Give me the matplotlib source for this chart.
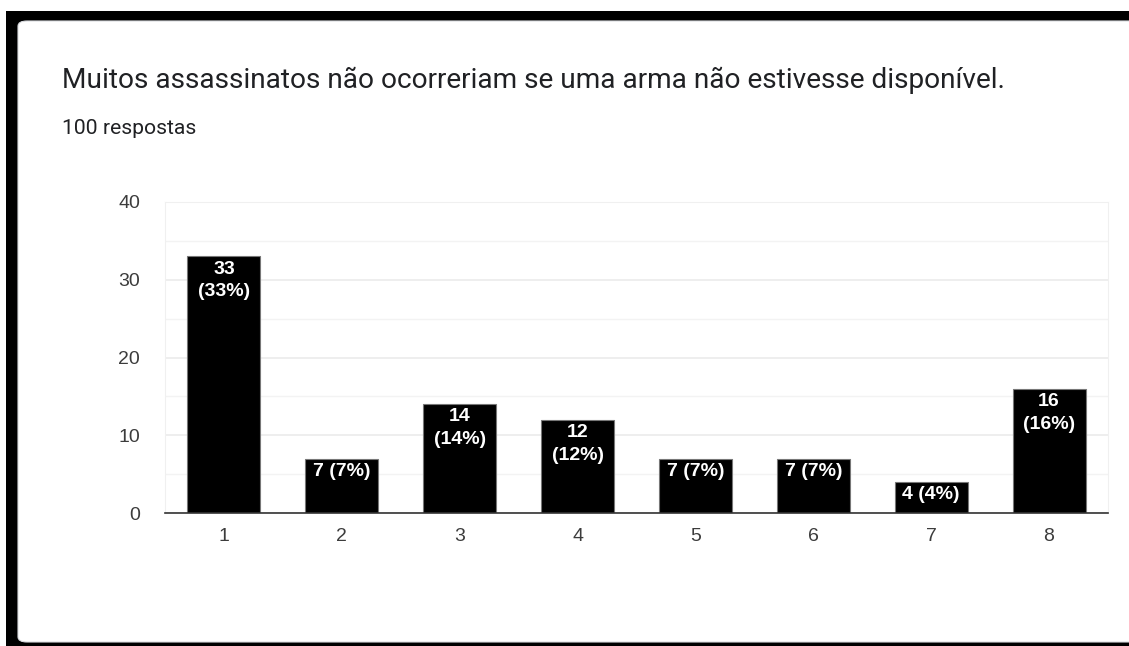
import matplotlib.pyplot as plt
from matplotlib.patches import FancyBboxPatch, Rectangle

categories = ["1", "2", "3", "4", "5", "6", "7", "8"]
counts = [33, 7, 14, 12, 7, 7, 4, 16]
total = 100
title = "Muitos assassinatos não ocorreriam se uma arma não estivesse disponível."
subtitle = f"{total} respostas"

W, H = 1129, 646
fig = plt.figure(figsize=(W / 100, H / 100), dpi=100)
fig.patch.set_facecolor("white")

# dark frame + rounded card (pixel coords converted to figure fraction)
fig.patches.append(Rectangle((6 / W, 0), 1, 1 - 11 / H, transform=fig.transFigure,
                             facecolor="black", edgecolor="none", zorder=0))
fig.patches.append(FancyBboxPatch((18 / W, 4 / H), 1.1, (642 - 21) / H,
                                  boxstyle="round,pad=0,rounding_size=0.008",
                                  transform=fig.transFigure, facecolor="white",
                                  edgecolor="#dadce0", lw=0.8, zorder=0.5))

fig.text(62 / W, 1 - 80 / H, title, fontsize=20.2, color="#202124", family="Roboto", va="center")
fig.text(62 / W, 1 - 128 / H, subtitle, fontsize=15.2, color="#202124", family="Roboto", va="center")

ax = fig.add_axes([165 / W, 1 - 513 / H, (1108 - 165) / W, (513 - 202) / H])
ax.set_zorder(2)
ax.set_facecolor("none")
x = list(range(1, len(categories) + 1))
ax.bar(x, counts, width=0.62, color="black", edgecolor="#777777", lw=0.8, zorder=3)

for xi, c in zip(x, counts):
    pct = round(100 * c / total)
    label = f"{c}\n({pct}%)" if c >= 10 else f"{c} ({pct}%)"
    ax.annotate(label, (xi, c), xytext=(0, -3), textcoords="offset points", ha="center", va="top",
                color="white", fontsize=14, fontweight="bold", family="Liberation Sans",
                linespacing=1.45, zorder=4)

ax.set_xlim(0.5, 8.5)
ax.set_ylim(0, 40)
ax.set_xticks(x, categories)
ax.set_yticks([0, 10, 20, 30, 40])
ax.set_yticks([5, 15, 25, 35], minor=True)
ax.grid(True, axis="y", which="major", color="#ebebeb", lw=1.2, zorder=0)
ax.grid(True, axis="y", which="minor", color="#f3f3f3", lw=1.0, zorder=0)
ax.tick_params(axis="both", which="both", length=0, labelsize=14, labelcolor="#3c3c3c")
ax.tick_params(axis="x", pad=11)
ax.tick_params(axis="y", pad=18)
for lab in ax.get_xticklabels() + ax.get_yticklabels():
    lab.set_family("Liberation Sans")
for side in ("left", "right", "top"):
    ax.spines[side].set_color("#f0f0f0")
ax.spines["bottom"].set_color("#333333")
ax.spines["bottom"].set_linewidth(1.2)
ax.spines["bottom"].set_zorder(5)

fig.savefig("out.png", dpi=100)
